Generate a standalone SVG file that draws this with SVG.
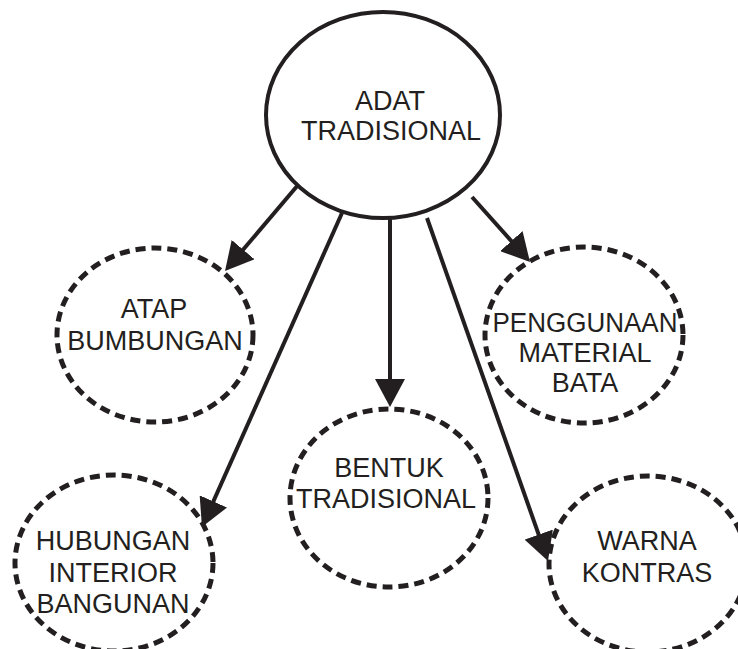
<svg xmlns="http://www.w3.org/2000/svg" width="738" height="649" viewBox="0 0 738 649">
  <style>
    .main { fill: #ffffff; stroke: #231f20; stroke-width: 4; }
    .sub { fill: none; stroke: #231f20; stroke-width: 5; stroke-dasharray: 10 6; }
    .lbl { font-family: "Liberation Sans", Arial, sans-serif; font-size: 27px; fill: #231f20; text-anchor: middle; }
    .conn { stroke: #231f20; stroke-width: 4; fill: none; marker-end: url(#arrow); }
  </style>
  <defs>
    <marker id="arrow" viewBox="0 0 28 30" markerWidth="28" markerHeight="30" refX="22" refY="15" orient="auto" markerUnits="userSpaceOnUse">
      <path d="M0,0 L28,15 L0,30 Z" fill="#231f20"/>
    </marker>
  </defs>
  <rect width="738" height="649" fill="#ffffff"/>
  <g id="connectors">
    <line class="conn" x1="298" y1="185" x2="228.9" y2="266.4"/>
    <line class="conn" x1="342" y1="213" x2="204.4" y2="521.5"/>
    <line class="conn" x1="390" y1="218" x2="390" y2="401"/>
    <line class="conn" x1="427" y1="218" x2="546" y2="555.3"/>
    <line class="conn" x1="472" y1="197" x2="526" y2="257.5"/>
  </g>
  <g id="adat-tradisional">
    <ellipse class="main" cx="383" cy="115" rx="117" ry="103"/>
    <text class="lbl" x="390" y="110">ADAT</text>
    <text class="lbl" x="391" y="140">TRADISIONAL</text>
  </g>
  <g id="atap-bumbungan">
    <ellipse class="sub" cx="155" cy="335" rx="98" ry="87"/>
    <text class="lbl" x="154" y="318">ATAP</text>
    <text class="lbl" x="155" y="350">BUMBUNGAN</text>
  </g>
  <g id="hubungan-interior-bangunan">
    <ellipse class="sub" cx="114" cy="563" rx="99" ry="88"/>
    <text class="lbl" x="113" y="550">HUBUNGAN</text>
    <text class="lbl" x="113" y="582">INTERIOR</text>
    <text class="lbl" x="113" y="613">BANGUNAN</text>
  </g>
  <g id="bentuk-tradisional">
    <ellipse class="sub" cx="389" cy="498" rx="99" ry="89"/>
    <text class="lbl" x="389" y="477">BENTUK</text>
    <text class="lbl" x="386" y="508">TRADISIONAL</text>
  </g>
  <g id="penggunaan-material-bata">
    <ellipse class="sub" cx="584" cy="335" rx="99" ry="88"/>
    <text class="lbl" x="585" y="332" textLength="185" lengthAdjust="spacingAndGlyphs">PENGGUNAAN</text>
    <text class="lbl" x="585" y="362">MATERIAL</text>
    <text class="lbl" x="585" y="392">BATA</text>
  </g>
  <g id="warna-kontras">
    <ellipse class="sub" cx="648" cy="564" rx="99" ry="88"/>
    <text class="lbl" x="647" y="550">WARNA</text>
    <text class="lbl" x="647" y="582">KONTRAS</text>
  </g>
</svg>
